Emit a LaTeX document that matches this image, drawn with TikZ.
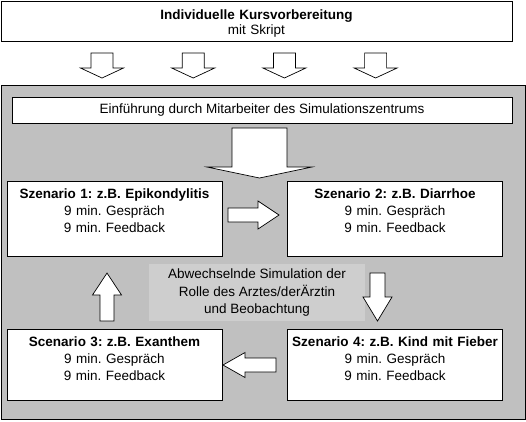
\documentclass[tikz,border=0pt]{standalone}
\usepackage{fontspec}
\setmainfont{Liberation Sans}
\usetikzlibrary{positioning}
\frenchspacing
\definecolor{PanelGray}{HTML}{C0C0C0}
\definecolor{NoteGray}{HTML}{CECECE}
\newcommand{\blockarrow}[6]{%
  \draw[arrowline,shift={(#1)},rotate=#2]
    (0,-#4/2) -- ({#3-#6},-#4/2) -- ({#3-#6},-#5/2) -- (#3,0)
    -- ({#3-#6},#5/2) -- ({#3-#6},#4/2) -- (0,#4/2) -- cycle;}
\begin{document}
\begin{tikzpicture}[x=1pt,y=-1pt,font=\fontsize{13.5}{17}\selectfont,
  box/.style={draw,fill=white,line width=0.8pt,inner sep=0pt,align=center},
  scenbox/.style={box,anchor=north,text width=215pt,text height=17.5pt,text depth=#1},
  arrowline/.style={draw=black,fill=white,line width=0.7pt,line join=miter}]
  \useasboundingbox (0,0) rectangle (526,421);
  \node[box,anchor=north,text width=511pt,text height=18.3pt,text depth=21.7pt,
    font=\fontsize{13.5}{15}\selectfont] (prep) at (256.5,1)
    {\textbf{Individuelle Kursvorbereitung}\\mit Skript};
  \foreach \i in {0,...,3} {\blockarrow{102+91.2*\i,53}{-90}{25}{22}{43}{10}}
  \node[draw,fill=PanelGray,line width=0.8pt,anchor=north west,
    minimum width=524pt,minimum height=334pt] (panel) at (1,85) {};
  \node[box,anchor=north,minimum width=500pt,minimum height=26pt] (intro) at (262,97)
    {Einführung durch Mitarbeiter des Simulationszentrums};
  \blockarrow{259.5,128}{-90}{50}{55}{105}{11}
  \node[scenbox=57.5pt] (epi) at (114.5,181)
    {\textbf{Szenario 1: z.B. Epikondylitis}\\9 min. Gespräch\\9 min. Feedback};
  \node[scenbox=57.5pt] (diar) at (395,181)
    {\textbf{Szenario 2: z.B. Diarrhoe}\\9 min. Gespräch\\9 min. Feedback};
  \node[scenbox=53.3pt] (exan) at (114.5,329)
    {\textbf{Scenario 3: z.B. Exanthem}\\9 min. Gespräch\\9 min. Feedback};
  \node[scenbox=53.3pt] (fieber) at (395,329)
    {\textbf{Szenario 4: z.B. Kind mit Fieber}\\9 min. Gespräch\\9 min. Feedback};
  \node[fill=NoteGray,inner sep=0pt,align=center,minimum width=216pt,minimum height=57pt]
    (swap) at (257,292.5)
    {Abwechselnde Simulation der\\Rolle des Arztes/derÄrztin\\und Beobachtung};
  \blockarrow{228,215}{0}{51}{14}{28}{21}
  \blockarrow{107,321}{90}{48}{14}{29}{22}
  \blockarrow{377.5,273}{-90}{48}{15}{29}{24}
  \blockarrow{276,365}{180}{53}{14}{25}{22}
\end{tikzpicture}
\end{document}
